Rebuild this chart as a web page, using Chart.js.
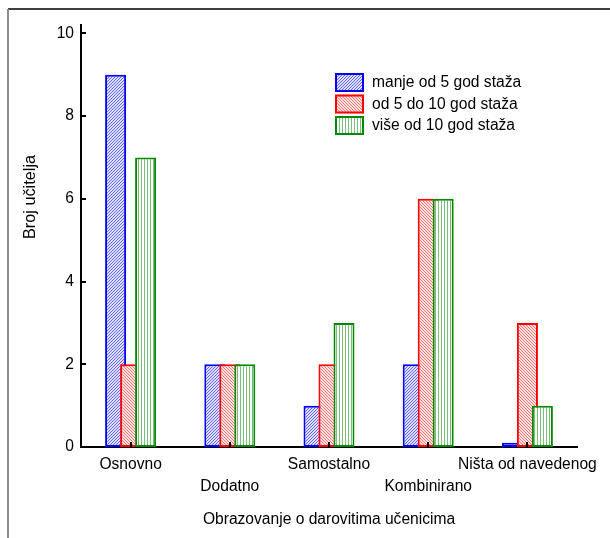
<!DOCTYPE html>
<html><head><meta charset="utf-8">
<script src="https://cdn.jsdelivr.net/npm/chart.js@4"></script>
<style>html,body{margin:0;padding:0;background:#fff;} #wrap{position:relative;width:610px;height:538px;}</style>
</head><body><div id="wrap"><canvas id="c" width="610" height="538"></canvas></div>
<script>
const categories = ['Osnovno','Dodatno','Samostalno','Kombinirano','Ništa od navedenog'];
const seriesLabels = ['manje od 5 god staža','od 5 do 10 god staža','više od 10 god staža'];
const lessThan5 = [9, 2, 1, 2, 0.1];
const from5to10 = [2, 2, 2, 6, 3];
const moreThan10 = [7, 2, 3, 6, 1];
const yTicks = [0, 2, 4, 6, 8, 10];
const xTitle = 'Obrazovanje o darovitima učenicima';
const yTitle = 'Broj učitelja';

const FONT = "'Liberation Sans', Arial, sans-serif";

function makePattern(kind) {
  const c = document.createElement('canvas');
  const n = 3;
  c.width = n; c.height = n;
  const g = c.getContext('2d');
  if (kind === 'blue') {
    g.fillStyle = '#dedefe'; g.fillRect(0,0,n,n);
    g.fillStyle = '#6464ff';
    for (let i=0;i<n;i++) g.fillRect((n-1-i),i,1,1);
  } else if (kind === 'red') {
    g.fillStyle = '#ffe2e2'; g.fillRect(0,0,n,n);
    g.fillStyle = '#ff7474';
    for (let i=0;i<n;i++) g.fillRect(i,i,1,1);
  } else {
    g.fillStyle = '#ffffff'; g.fillRect(0,0,n,n);
    g.fillStyle = '#78c078';
    g.fillRect(0,0,1,n);
  }
  return g.createPattern(c, 'repeat');
}
const ctx = document.getElementById('c').getContext('2d');
const fills = [makePattern('blue'), makePattern('red'), makePattern('green')];
const strokes = ['#0000ff', '#ff0000', '#008a00'];
const seriesData = [lessThan5, from5to10, moreThan10];

const drawOrderPlugin = {
  id: 'drawOrder',
  beforeDatasetsDraw(chart) {
    const ca = chart.chartArea;
    const c = chart.ctx;
    for (let i = 0; i < chart.data.datasets.length; i++) {
      const meta = chart.getDatasetMeta(i);
      if (!meta.visible) continue;
      c.save();
      c.beginPath();
      c.rect(ca.left, ca.top - 5, ca.right - ca.left, ca.bottom - ca.top + 5);
      c.clip();
      meta.controller.draw();
      c.restore();
    }
    return false;
  }
};

const decorPlugin = {
  id: 'decor',
  afterDraw(chart) {
    const c = chart.ctx;
    const xs = chart.scales.x, ys = chart.scales.y;
    const ca = chart.chartArea;
    c.save();
    // frame
    c.fillStyle = '#404040';
    c.fillRect(8, 8, 602, 2);
    c.fillStyle = '#8c8c8c';
    c.fillRect(7, 9, 2, 529);
    // inward ticks
    c.strokeStyle = '#000';
    c.lineWidth = 2;
    yTicks.forEach(v => {
      const py = Math.round(ys.getPixelForValue(v));
      c.beginPath(); c.moveTo(ca.left, py); c.lineTo(ca.left + 5, py); c.stroke();
    });
    categories.forEach((_, i) => {
      const px = Math.round(xs.getPixelForValue(i));
      c.beginPath(); c.moveTo(px, ca.bottom); c.lineTo(px, ca.bottom - 5); c.stroke();
    });
    // titles
    c.fillStyle = '#000';
    c.font = '15.6px ' + FONT;
    c.textAlign = 'center';
    c.textBaseline = 'middle';
    c.fillText(xTitle, (ca.left + ca.right) / 2, 520);
    c.save();
    c.font = '16.3px ' + FONT;
    c.translate(31, 197);
    c.rotate(-Math.PI / 2);
    c.fillText(yTitle, 0, 0);
    c.restore();
    // legend
    const lx = 335, ly = 73, bw = 29, bh = 19, gap = 21.5;
    c.textAlign = 'left';
    c.font = '15.6px ' + FONT;
    chart.data.datasets.forEach((ds, i) => {
      const y = ly + i * gap;
      c.fillStyle = ds.backgroundColor;
      c.fillRect(lx, y, bw, bh);
      c.strokeStyle = ds.borderColor;
      c.lineWidth = 2;
      c.strokeRect(lx + 1, y + 1, bw - 2, bh - 2);
      c.fillStyle = '#000';
      c.fillText(ds.label, 372, y + bh / 2 + 0.5);
    });
    c.restore();
  }
};

new Chart(ctx, {
  type: 'bar',
  data: {
    labels: categories,
    datasets: seriesData.map((d, i) => ({
      label: seriesLabels[i],
      data: d,
      backgroundColor: fills[i],
      borderColor: strokes[i],
      borderWidth: 2,
      borderSkipped: false,
      categoryPercentage: 0.4536,
      barPercentage: 1.4
    }))
  },
  options: {
    responsive: false,
    devicePixelRatio: 1,
    animation: false,
    layout: { padding: { left: 0, top: 25, right: 33, bottom: 0 } },
    plugins: { legend: { display: false }, tooltip: { enabled: false }, title: { display: false } },
    scales: {
      x: {
        grid: { display: false, drawTicks: false },
        border: { display: true, color: '#000', width: 2 },
        ticks: {
          color: '#000', font: { family: FONT, size: 15.6, lineHeight: 1.41 },
          padding: 7, maxRotation: 0, minRotation: 0, autoSkip: false,
          callback: function(v, i) { return i % 2 ? ['', categories[i]] : categories[i]; }
        },
        afterFit(s) { s.height = 91; }
      },
      y: {
        min: 0, max: 10.2,
        grid: { display: false, drawTicks: false },
        border: { display: true, color: '#000', width: 2 },
        ticks: { color: '#000', font: { family: FONT, size: 15.6 }, padding: 7, stepSize: 2, includeBounds: false },
        afterBuildTicks(s) { s.ticks = yTicks.map(v => ({ value: v })); },
        afterFit(s) { s.width = 81; }
      }
    }
  },
  plugins: [drawOrderPlugin, decorPlugin]
});
</script>
</body></html>
